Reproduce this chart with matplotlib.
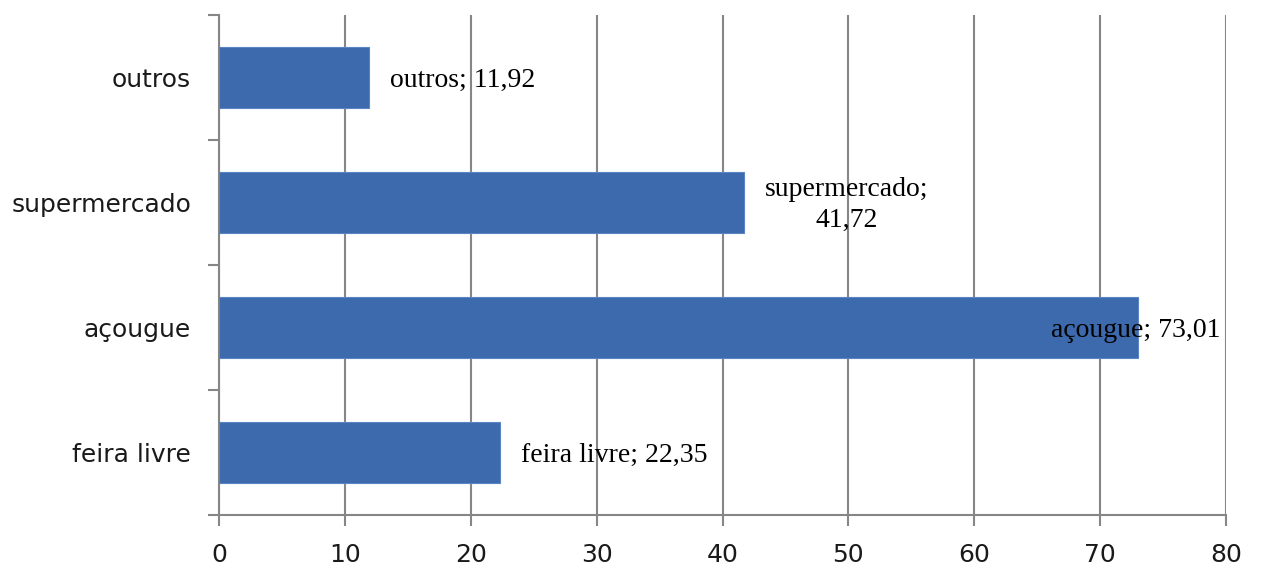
import numpy as np
import matplotlib.pyplot as plt

# locais de compra (de baixo para cima) e percentuais
locais = ['feira livre', 'açougue', 'supermercado', 'outros']
valores = [22.35, 73.01, 41.72, 11.92]
rotulos = ['feira livre; 22,35', 'açougue; 73,01', 'supermercado;\n41,72', 'outros; 11,92']
xticks = [0, 10, 20, 30, 40, 50, 60, 70, 80]

cor_barra = '#3D6AAD'
cinza = '#868686'

fig = plt.figure(figsize=(12.65, 5.68), dpi=100)
ax = fig.add_axes([219/1265, 53/568, 1007/1265, 500/568])

y = np.arange(len(locais))
ax.barh(y, valores, height=0.49, color=cor_barra, edgecolor='#5A84C2', linewidth=0.8, zorder=3)

ax.set_xlim(0, 80)
ax.set_ylim(-0.5, len(locais) - 0.5)

# grade vertical a cada 10
ax.set_xticks(xticks)
ax.set_xticklabels([str(t) for t in xticks], fontsize=18, family='DejaVu Sans', color='#1a1a1a')
ax.xaxis.grid(True, color=cinza, linewidth=1.5, zorder=0)

# categorias no eixo y, marcas entre elas
ax.set_yticks(y)
ax.set_yticklabels(locais, fontsize=18, family='DejaVu Sans', color='#1a1a1a')
ax.set_yticks(np.arange(-0.5, len(locais)), minor=True)
ax.tick_params(axis='y', which='major', length=0, pad=20)
ax.tick_params(axis='y', which='minor', length=8, width=1.5, color=cinza)
ax.tick_params(axis='x', length=8, width=1.5, color=cinza, pad=12)

for s in ['top', 'right']:
    ax.spines[s].set_visible(False)
for s in ['left', 'bottom']:
    ax.spines[s].set_color(cinza)
    ax.spines[s].set_linewidth(1.5)

# rótulos de dados
for i, (v, r) in enumerate(zip(valores, rotulos)):
    if v > 70:
        ax.annotate(r, xy=(80, i), xytext=(-4, -2), textcoords='offset points',
                    ha='right', va='center', fontsize=20, family='Liberation Serif', zorder=4)
    else:
        ax.annotate(r, xy=(v, i), xytext=(15, -2), textcoords='offset points',
                    ha='left', va='center', multialignment='center', linespacing=1.3,
                    fontsize=20, family='Liberation Serif', zorder=4)

fig.savefig('out.png', dpi=100)
